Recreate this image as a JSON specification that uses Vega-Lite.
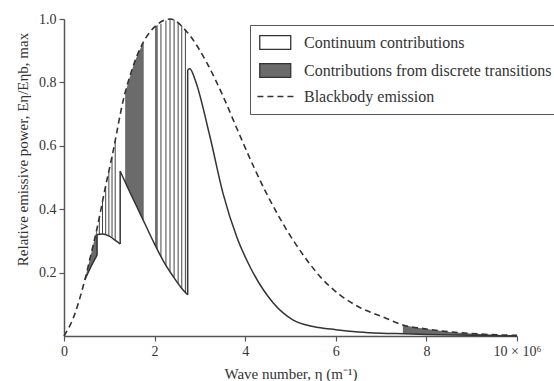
{
  "$schema": "https://vega.github.io/schema/vega-lite/v6.json",
  "width": 453,
  "height": 317,
  "autosize": {"type": "none"},
  "padding": {"left": 64, "top": 19, "right": 37, "bottom": 45},
  "config": {
    "view": {"stroke": null},
    "font": "Liberation Serif",
    "axis": {
      "grid": false,
      "domainColor": "#555",
      "domainWidth": 1.5,
      "tickColor": "#555",
      "tickWidth": 1.2,
      "tickSize": 5,
      "labelFont": "Liberation Serif",
      "labelFontSize": 14,
      "labelColor": "#333",
      "titleFont": "Liberation Serif",
      "titleFontSize": 15,
      "titleFontWeight": "normal",
      "titleColor": "#333"
    },
    "legend": {
      "orient": "none",
      "legendX": 186,
      "legendY": 6,
      "padding": 9,
      "strokeColor": "#555",
      "fillColor": "#ffffff",
      "symbolSize": 240,
      "symbolStrokeColor": "#333",
      "symbolStrokeWidth": 1.3,
      "symbolOpacity": 1,
      "labelFont": "Liberation Serif",
      "labelFontSize": 16,
      "labelColor": "#333",
      "labelLimit": 400,
      "labelOffset": 28,
      "rowPadding": 7
    }
  },
  "datasets": {
    "bb": [
      {"kind": "Blackbody emission", "eta": 0, "v": 0}, {"kind": "Blackbody emission", "eta": 0.2, "v": 0.055},
      {"kind": "Blackbody emission", "eta": 0.46, "v": 0.177}, {"kind": "Blackbody emission", "eta": 0.6, "v": 0.26},
      {"kind": "Blackbody emission", "eta": 0.73, "v": 0.34}, {"kind": "Blackbody emission", "eta": 0.9, "v": 0.46},
      {"kind": "Blackbody emission", "eta": 1.09, "v": 0.587}, {"kind": "Blackbody emission", "eta": 1.31, "v": 0.745},
      {"kind": "Blackbody emission", "eta": 1.5, "v": 0.84}, {"kind": "Blackbody emission", "eta": 1.74, "v": 0.924},
      {"kind": "Blackbody emission", "eta": 2.0, "v": 0.975}, {"kind": "Blackbody emission", "eta": 2.34, "v": 1.0},
      {"kind": "Blackbody emission", "eta": 2.71, "v": 0.96}, {"kind": "Blackbody emission", "eta": 3.16, "v": 0.86},
      {"kind": "Blackbody emission", "eta": 3.5, "v": 0.76}, {"kind": "Blackbody emission", "eta": 3.89, "v": 0.63},
      {"kind": "Blackbody emission", "eta": 4.2, "v": 0.53}, {"kind": "Blackbody emission", "eta": 4.47, "v": 0.45},
      {"kind": "Blackbody emission", "eta": 4.77, "v": 0.37}, {"kind": "Blackbody emission", "eta": 5.36, "v": 0.24},
      {"kind": "Blackbody emission", "eta": 5.7, "v": 0.18}, {"kind": "Blackbody emission", "eta": 6.09, "v": 0.13},
      {"kind": "Blackbody emission", "eta": 6.53, "v": 0.09}, {"kind": "Blackbody emission", "eta": 7.04, "v": 0.06},
      {"kind": "Blackbody emission", "eta": 7.48, "v": 0.035}, {"kind": "Blackbody emission", "eta": 8.0, "v": 0.022},
      {"kind": "Blackbody emission", "eta": 8.52, "v": 0.013}, {"kind": "Blackbody emission", "eta": 9.2, "v": 0.006},
      {"kind": "Blackbody emission", "eta": 10, "v": 0.002}
    ],
    "cont": [
      {"seg": 1, "eta": 0.46, "v": 0.177}, {"seg": 1, "eta": 0.6, "v": 0.22}, {"seg": 1, "eta": 0.73, "v": 0.255},
      {"seg": 2, "eta": 0.73, "v": 0.32}, {"seg": 2, "eta": 0.85, "v": 0.322}, {"seg": 2, "eta": 1.0, "v": 0.315},
      {"seg": 2, "eta": 1.15, "v": 0.3}, {"seg": 2, "eta": 1.24, "v": 0.29},
      {"seg": 3, "eta": 1.24, "v": 0.52}, {"seg": 3, "eta": 1.4, "v": 0.47}, {"seg": 3, "eta": 1.6, "v": 0.41},
      {"seg": 3, "eta": 1.8, "v": 0.35}, {"seg": 3, "eta": 2.0, "v": 0.29}, {"seg": 3, "eta": 2.2, "v": 0.235},
      {"seg": 3, "eta": 2.4, "v": 0.19}, {"seg": 3, "eta": 2.6, "v": 0.15}, {"seg": 3, "eta": 2.73, "v": 0.13},
      {"seg": 4, "eta": 2.73, "v": 0.84}, {"seg": 4, "eta": 2.78, "v": 0.843}, {"seg": 4, "eta": 2.89, "v": 0.81},
      {"seg": 4, "eta": 3.22, "v": 0.63}, {"seg": 4, "eta": 3.51, "v": 0.45}, {"seg": 4, "eta": 3.82, "v": 0.31},
      {"seg": 4, "eta": 4.1, "v": 0.22}, {"seg": 4, "eta": 4.62, "v": 0.104}, {"seg": 4, "eta": 5.06, "v": 0.05},
      {"seg": 4, "eta": 5.5, "v": 0.03}, {"seg": 4, "eta": 6.0, "v": 0.02}, {"seg": 4, "eta": 6.5, "v": 0.013},
      {"seg": 4, "eta": 7.0, "v": 0.009}, {"seg": 4, "eta": 7.5, "v": 0.007}, {"seg": 4, "eta": 8.0, "v": 0.005},
      {"seg": 4, "eta": 9.0, "v": 0.002}, {"seg": 4, "eta": 10, "v": 0}
    ],
    "dark": [
      {"seg": "A", "kind": "Contributions from discrete transitions", "eta": 0.46, "v": 0.177, "v2": 0.177},
      {"seg": "A", "kind": "Contributions from discrete transitions", "eta": 0.6, "v": 0.26, "v2": 0.22},
      {"seg": "A", "kind": "Contributions from discrete transitions", "eta": 0.73, "v": 0.34, "v2": 0.255},
      {"seg": "B", "kind": "Contributions from discrete transitions", "eta": 1.35, "v": 0.765, "v2": 0.485},
      {"seg": "B", "kind": "Contributions from discrete transitions", "eta": 1.45, "v": 0.815, "v2": 0.455},
      {"seg": "B", "kind": "Contributions from discrete transitions", "eta": 1.55, "v": 0.86, "v2": 0.425},
      {"seg": "B", "kind": "Contributions from discrete transitions", "eta": 1.65, "v": 0.895, "v2": 0.395},
      {"seg": "B", "kind": "Contributions from discrete transitions", "eta": 1.76, "v": 0.927, "v2": 0.362},
      {"seg": "C", "kind": "Contributions from discrete transitions", "eta": 2.01, "v": 0.976, "v2": 0.288},
      {"seg": "C", "kind": "Contributions from discrete transitions", "eta": 2.07, "v": 0.982, "v2": 0.272},
      {"seg": "D", "kind": "Contributions from discrete transitions", "eta": 7.48, "v": 0.035, "v2": 0.007},
      {"seg": "D", "kind": "Contributions from discrete transitions", "eta": 8.0, "v": 0.022, "v2": 0.005},
      {"seg": "D", "kind": "Contributions from discrete transitions", "eta": 8.52, "v": 0.013, "v2": 0.004},
      {"seg": "D", "kind": "Contributions from discrete transitions", "eta": 9.2, "v": 0.006, "v2": 0.002},
      {"seg": "D", "kind": "Contributions from discrete transitions", "eta": 10, "v": 0.002, "v2": 0}
    ],
    "hatch": [
      {"eta": 0.78, "v": 0.321, "v2": 0.375}, {"eta": 0.85, "v": 0.322, "v2": 0.425},
      {"eta": 0.92, "v": 0.319, "v2": 0.473}, {"eta": 0.99, "v": 0.316, "v2": 0.52},
      {"eta": 1.06, "v": 0.311, "v2": 0.567}, {"eta": 1.13, "v": 0.302, "v2": 0.615},
      {"eta": 2.14, "v": 0.25, "v2": 0.985}, {"eta": 2.25, "v": 0.221, "v2": 0.995},
      {"eta": 2.34, "v": 0.203, "v2": 1.0}, {"eta": 2.43, "v": 0.184, "v2": 0.998},
      {"eta": 2.52, "v": 0.166, "v2": 0.99}, {"eta": 2.6, "v": 0.15, "v2": 0.978},
      {"eta": 2.68, "v": 0.138, "v2": 0.965}
    ],
    "jumps": [
      {"eta": 0.73, "v": 0.255, "v2": 0.32},
      {"eta": 1.24, "v": 0.29, "v2": 0.52},
      {"eta": 2.73, "v": 0.13, "v2": 0.84}
    ]
  },
  "layer": [
    {
      "data": {"name": "dark"},
      "mark": {"type": "area", "opacity": 1, "interpolate": "monotone"},
      "encoding": {
        "x": {
          "field": "eta", "type": "quantitative",
          "scale": {"domain": [0, 10], "nice": false, "zero": false},
          "axis": {
            "values": [0, 2, 4, 6, 8, 10],
            "format": "d",
            "labelExpr": "datum.value == 10 ? '10 × 10⁶' : datum.label",
            "labelFlush": false,
            "labelPadding": 3,
            "title": "Wave number, η (m⁻¹)",
            "titlePadding": 8
          }
        },
        "y": {
          "field": "v", "type": "quantitative",
          "scale": {"domain": [0, 1], "nice": false},
          "axis": {
            "values": [0.2, 0.4, 0.6, 0.8, 1.0],
            "format": ".1f",
            "labelPadding": 3,
            "title": "Relative emissive power, Eη/Eηb, max",
            "titlePadding": 8,
            "titleY": 130
          }
        },
        "y2": {"field": "v2"},
        "detail": {"field": "seg"},
        "fill": {
          "field": "kind", "type": "nominal", "title": null,
          "scale": {
            "domain": ["Continuum contributions", "Contributions from discrete transitions", "Blackbody emission"],
            "range": ["#ffffff", "#6b6b6b", "#ffffff"]
          },
          "legend": {
            "symbolStrokeColor": "#333",
            "symbolStrokeWidth": 1.3,
            "symbolOpacity": 1
          }
        }
      }
    },
    {
      "data": {"name": "hatch"},
      "mark": {"type": "rule", "color": "#444", "strokeWidth": 1},
      "encoding": {
        "x": {"field": "eta", "type": "quantitative"},
        "y": {"field": "v", "type": "quantitative"},
        "y2": {"field": "v2"}
      }
    },
    {
      "data": {"name": "jumps"},
      "mark": {"type": "rule", "color": "#333", "strokeWidth": 1.5},
      "encoding": {
        "x": {"field": "eta", "type": "quantitative"},
        "y": {"field": "v", "type": "quantitative"},
        "y2": {"field": "v2"}
      }
    },
    {
      "data": {"name": "cont"},
      "mark": {"type": "line", "color": "#333", "strokeWidth": 1.5, "interpolate": "monotone"},
      "encoding": {
        "x": {"field": "eta", "type": "quantitative"},
        "y": {"field": "v", "type": "quantitative"},
        "detail": {"field": "seg"}
      }
    },
    {
      "data": {"name": "bb"},
      "mark": {"type": "line", "color": "#333", "strokeWidth": 1.6, "interpolate": "monotone"},
      "encoding": {
        "x": {"field": "eta", "type": "quantitative"},
        "y": {"field": "v", "type": "quantitative"},
        "strokeDash": {
          "field": "kind", "type": "nominal", "title": null,
          "scale": {
            "domain": ["Continuum contributions", "Contributions from discrete transitions", "Blackbody emission"],
            "range": [[1, 0], [1, 0], [6, 4]]
          }
        }
      }
    },
    {
      "data": {"name": "bb"},
      "mark": {"type": "point", "size": 0, "filled": false, "color": "#333"},
      "encoding": {
        "x": {"field": "eta", "type": "quantitative"},
        "y": {"field": "v", "type": "quantitative"},
        "shape": {
          "field": "kind", "type": "nominal", "title": null,
          "scale": {
            "domain": ["Continuum contributions", "Contributions from discrete transitions", "Blackbody emission"],
            "range": ["M-1,-0.9H3V0.9H-1Z", "M-1,-0.9H3V0.9H-1Z", "M-1.3,0H3.4"]
          }
        }
      }
    }
  ]
}
